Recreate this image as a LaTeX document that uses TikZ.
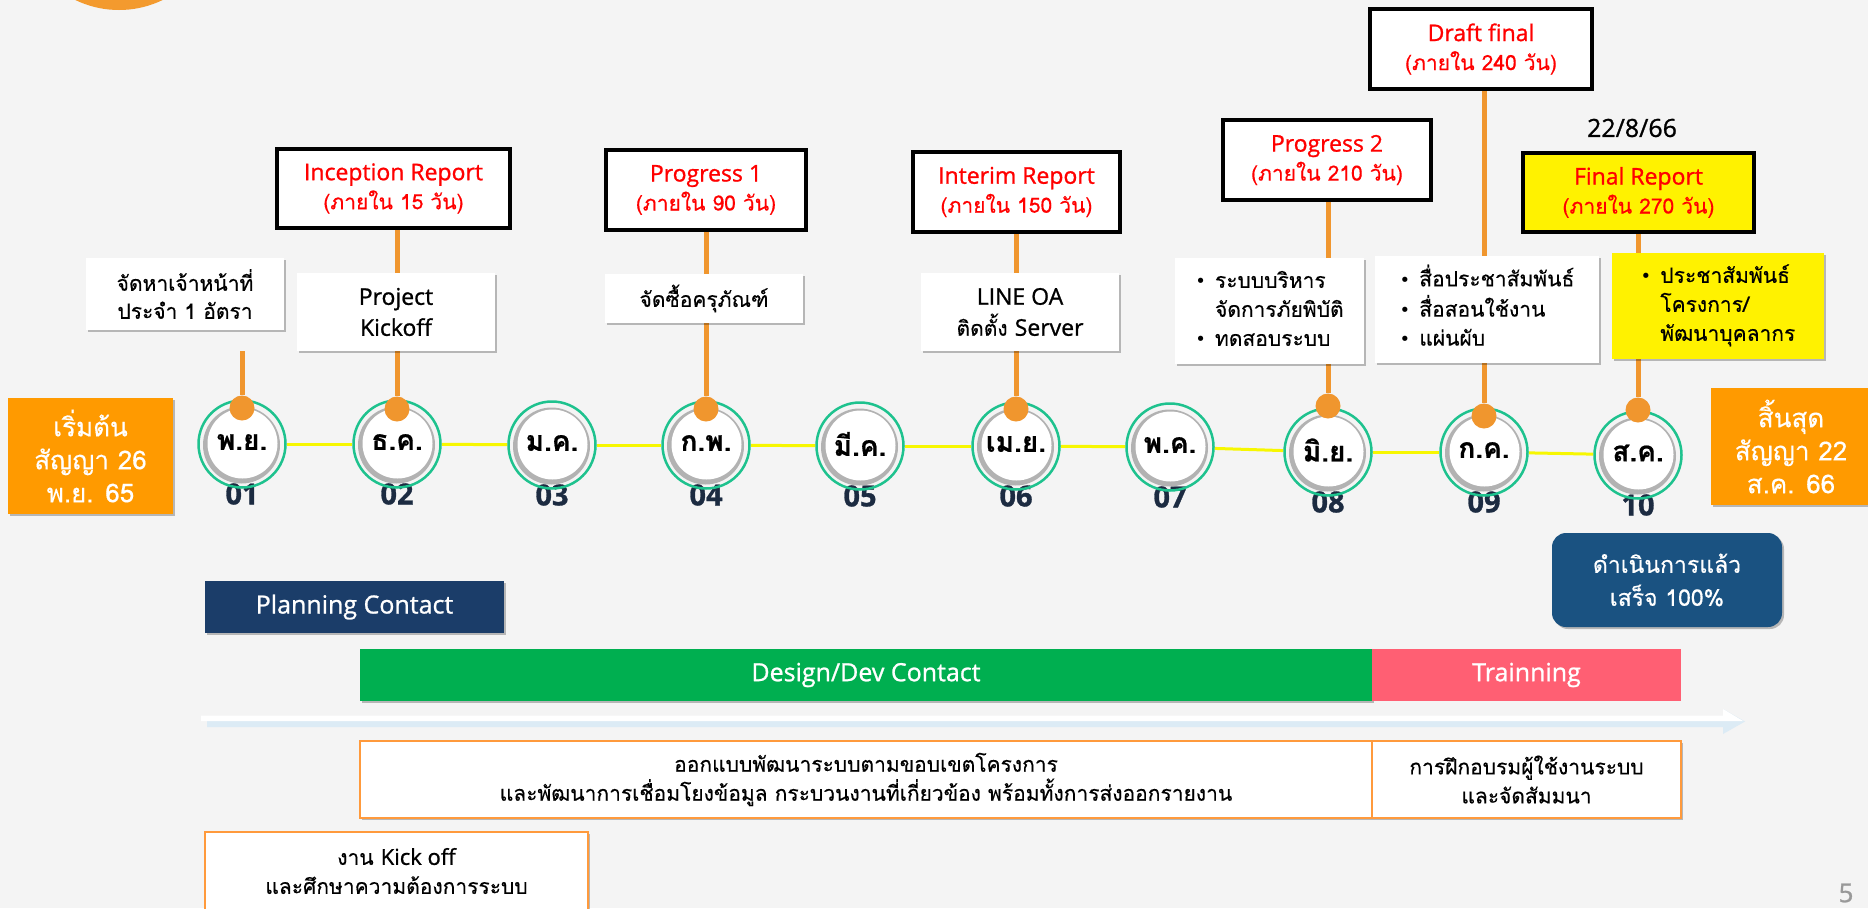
\documentclass[tikz,border=0pt]{standalone}
\usepackage{fontspec}
\setmainfont[Script=Thai, FakeBold=0.4, BoldFont={Loma Bold}, BoldFeatures={FakeBold=0.6}]{Loma}
\newfontfamily\lat[FakeBold=1.0]{Open Sans}
\newfontfamily\dejavu{DejaVu Sans}
\usetikzlibrary{shadows}
\definecolor{bgc}{HTML}{F4F4F4}
\definecolor{topc}{HTML}{F39A2E}
\definecolor{startc}{HTML}{FF9A00}
\definecolor{connc}{HTML}{F0962E}
\definecolor{ringc}{HTML}{1EC28E}
\definecolor{ylc}{HTML}{F7F700}
\definecolor{numc}{HTML}{1C2B41}
\definecolor{planc}{HTML}{1B3D69}
\definecolor{greenc}{HTML}{00AF50}
\definecolor{pinkc}{HTML}{FF5F73}
\definecolor{donec}{HTML}{1A5281}
\definecolor{descb}{HTML}{FF9A3C}
\definecolor{arrb}{HTML}{DCEBF5}
\definecolor{repred}{HTML}{FF0000}
\newcommand{\mybul}{{\dejavu\fontsize{18}{18}\selectfont •}}
\pgfdeclarelayer{bgl}
\pgfdeclarelayer{connl}
\pgfsetlayers{bgl,connl,main}
\tikzset{
  wh/.style 2 args={minimum width=#1pt, minimum height=#2pt},
  base/.style={inner sep=0pt, align=center, font=\fontsize{21}{28}\selectfont},
  shad/.style={drop shadow={shadow xshift=2pt, shadow yshift=-2pt, opacity=0.25, fill=black}},
  repbox/.style={base, draw=black, line width=3.5pt, fill=white, text=repred, shad, font=\fontsize{21}{29}\selectfont},
  wbox/.style={base, fill=white, shad},
  sebox/.style={base, fill=startc, text=white, shad, font=\fontsize{26}{33}\selectfont},
  barbox/.style={base, text=white, font=\fontsize{25}{27}\selectfont\lat},
  descbox/.style={base, draw=descb, line width=2.5pt, fill=white, shad, font=\fontsize{21}{29}\selectfont},
  ring/.style={circle, draw=ringc, line width=2.5pt, minimum size=87pt, inner sep=0pt},
  mlbl/.style={inner sep=0pt, font=\fontsize{28}{30}\selectfont\bfseries},
  numlbl/.style={inner sep=0pt, text=numc, font=\fontsize{29}{30}\selectfont\lat\bfseries},
  dotn/.style={circle, fill=connc, minimum size=25pt, inner sep=0pt},
  conn/.style={draw=connc, line width=5pt},
  yline/.style={draw=ylc, line width=3pt}
}
\newcommand{\rl}[1]{{\fontsize{23}{29}\selectfont\lat #1}}
\begin{document}
\begin{tikzpicture}[x=1pt,y=-1pt]
\begin{pgfonlayer}{bgl}
\fill[bgc] (0,0) rectangle (1868,908);
\end{pgfonlayer}
\useasboundingbox (0,0) rectangle (1868,908);
% top-left decorative circle
\fill[topc] (119,-90) circle (100pt);

% report boxes
\node[repbox, wh={233}{79}] (rep2) at (393.5,188.5) {\rl{Inception Report}\\(ภายใน 15 วัน)};
\node[repbox, wh={200}{80}] (rep4) at (706,190) {\rl{Progress 1}\\(ภายใน 90 วัน)};
\node[repbox, wh={207}{80}] (rep6) at (1016.5,192) {\rl{Interim Report}\\(ภายใน 150 วัน)};
\node[repbox, wh={208}{80}] (rep8) at (1327,160) {\rl{Progress 2}\\(ภายใน 210 วัน)};
\node[repbox, wh={222}{80}] (rep9) at (1481,49) {\rl{Draft final}\\(ภายใน 240 วัน)};
\node[repbox, wh={231}{79}, fill=yellow] (rep10) at (1638.5,192.5) {\rl{Final Report}\\(ภายใน 270 วัน)};
\node[base, font=\fontsize{25}{26}\selectfont\lat] (date) at (1632,128) {22/8/66};

% white task boxes
\node[wbox, wh={198}{72}] (wb1) at (185,294) {จัดหาเจ้าหน้าที่\\ประจำ 1 อัตรา};
\node[wbox, wh={198}{78}, font=\fontsize{23}{31}\selectfont\lat] (wb2) at (396,312) {Project\\Kickoff};
\node[wbox, wh={198}{78}, font=\fontsize{21}{31}\selectfont] (wb6) at (1020,312) {{\fontsize{23}{31}\selectfont\lat LINE OA}\\ติดตั้ง {\fontsize{23}{31}\selectfont\lat Server}};
\node[wbox, wh={198}{49}] (wb4) at (704,298.5) {จัดซื้อครุภัณฑ์};
\node[wbox, wh={189}{106}, font=\fontsize{21}{29}\selectfont] (wb8) at (1269.5,311)
  {\begin{tabular}{@{}l@{\hspace{9pt}}l@{}}\mybul & ระบบบริหาร\\ & จัดการภัยพิบัติ\\ \mybul & ทดสอบระบบ\end{tabular}};
\node[wbox, wh={224}{107}, font=\fontsize{21}{29}\selectfont] (wb9) at (1487,309.5)
  {\begin{tabular}{@{}l@{\hspace{9pt}}l@{}}\mybul & สื่อประชาสัมพันธ์\\ \mybul & สื่อสอนใช้งาน\\ \mybul & แผ่นผับ\end{tabular}};
\node[wbox, wh={212}{106}, fill=yellow, font=\fontsize{21}{29}\selectfont] (wb10) at (1718,306)
  {\begin{tabular}{@{}l@{\hspace{9pt}}l@{}}\mybul & ประชาสัมพันธ์\\ & โครงการ/\\ & พัฒนาบุคลากร\end{tabular}};

% start / end boxes
\node[sebox, wh={165}{116}] (start) at (90.5,456) {เริ่มต้น\\สัญญา 26\\พ.ย. 65};
\node[sebox, wh={160}{117}] (end) at (1791,446.5) {สิ้นสุด\\สัญญา 22\\ส.ค. 66};

% month circles
\foreach \x/\y/\m/\n [count=\i] in {242/444/พ.ย./01, 397/444/ธ.ค./02, 552/445/ม.ค./03, 706/445/ก.พ./04, 860/446/มี.ค./05, 1016/446/เม.ย./06, 1170/447/พ.ค./07, 1328/452/มิ.ย./08, 1484/452/ก.ค./09, 1638/455/ส.ค./10}{
  \node[numlbl] (n\i) at (\x,\y+50) {\n};
  \fill[black!30] (\x-0.5,\y+1) circle (38.5pt);
  \fill[white] (\x+0.5,\y-0.5) circle (35pt);
  \node[ring] (m\i) at (\x,\y) {};
  \node[mlbl] (l\i) at (\x,\y-2) {\m};
}
\begin{pgfonlayer}{connl}
\foreach \i [evaluate=\i as \j using int(\i+1)] in {1,...,9}{
  \draw[yline] (m\i) -- (m\j);
}
\end{pgfonlayer}

% dots
\node[dotn] (d1) at (242,408) {};
\node[dotn] (d2) at (397,409) {};
\node[dotn] (d4) at (706,409) {};
\node[dotn] (d6) at (1016,409) {};
\node[dotn] (d8) at (1328,406) {};
\node[dotn] (d9) at (1484,416) {};
\node[dotn] (d10) at (1638,410) {};
\coordinate (s1) at (242,351);

\begin{pgfonlayer}{connl}
\draw[conn] (s1) -- (d1);
\draw[conn] (d2 |- rep2.south) -- (d2);
\draw[conn] (d4 |- rep4.south) -- (d4);
\draw[conn] (d6 |- rep6.south) -- (d6);
\draw[conn] (d8 |- rep8.south) -- (d8);
\draw[conn] (d9 |- rep9.south) -- (d9);
\draw[conn] (d10 |- rep10.south) -- (d10);
\end{pgfonlayer}

% done box
\node[base, fill=donec, text=white, rounded corners=14pt, wh={230}{94}, shad, font=\fontsize{23}{33}\selectfont] (done) at (1667,580) {ดำเนินการแล้ว\\เสร็จ 100\%};

% phase bars
\node[barbox, fill=planc, wh={299}{52}, shad] (plan) at (354.5,607) {Planning Contact};
\node[barbox, fill=greenc, wh={1012}{52}, shad] (dev) at (866,675) {Design/Dev Contact};
\node[barbox, fill=pinkc, wh={309}{52}] (train) at (1526.5,675) {Trainning};

% timeline arrow
\fill[arrb] (207,721) -- (1723,721) -- (1723,709) -- (1745,721.5) -- (1723,734) -- (1723,727) -- (207,727) -- cycle;
\fill[white] (201,715.5) -- (1723,715.5) -- (1723,709) -- (1743,721) -- (201,721) -- cycle;

% descriptions
\node[descbox, wh={1012}{77}] (ddev) at (866,779.5) {ออกแบบพัฒนาระบบตามขอบเขตโครงการ\\และพัฒนาการเชื่อมโยงข้อมูล กระบวนงานที่เกี่ยวข้อง พร้อมทั้งการส่งออกรายงาน};
\node[descbox, wh={309}{77}] (dtrain) at (1526.5,779.5) {การฝึกอบรมผู้ใช้งานระบบ\\และจัดสัมมนา};
\node[descbox, wh={383}{78}] (dkick) at (396.5,871) {งาน {\fontsize{22}{29}\selectfont\lat Kick off}\\และศึกษาความต้องการระบบ};

% page number
\node[inner sep=0pt, text=black!40, font=\fontsize{26}{30}\selectfont\lat] (page) at (1846,893) {5};
\end{tikzpicture}
\end{document}
